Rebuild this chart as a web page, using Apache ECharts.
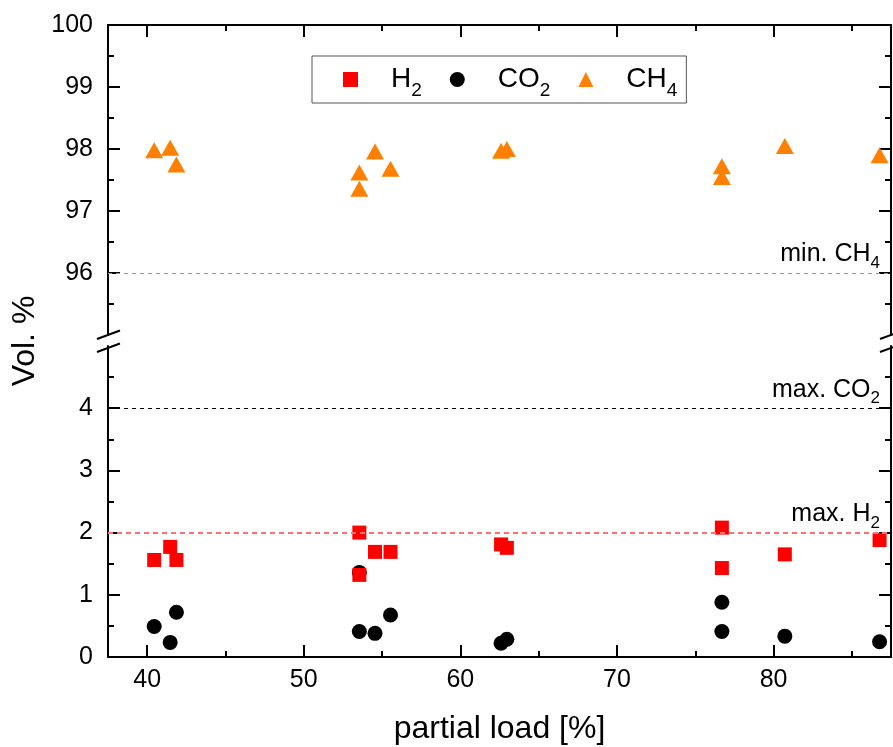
<!DOCTYPE html>
<html><head><meta charset="utf-8">
<script src="https://cdn.jsdelivr.net/npm/echarts@6/dist/echarts.min.js"></script>
<style>html,body{margin:0;padding:0;background:#fff}#c{width:893px;height:747px}</style>
</head><body><div id="c"></div>
<script>
// ---- data ----
const loadPct = [40.45, 41.47, 41.87, 53.55, 53.55, 54.55, 55.54, 62.6, 62.97, 76.7, 76.7, 80.72, 86.77];
const h2  = [1.56, 1.77, 1.56, 2.00, 1.32, 1.69, 1.69, 1.81, 1.755, 2.08, 1.43, 1.65, 1.88];
const co2 = [0.49, 0.235, 0.72, 0.41, 1.36, 0.38, 0.675, 0.22, 0.285, 0.41, 0.88, 0.335, 0.245];
const ch4 = [97.98, 98.02, 97.75, 97.62, 97.36, 97.96, 97.68, 97.97, 98.00, 97.55, 97.72, 98.05, 97.90];
const xMajorTicks = [40, 50, 60, 70, 80];
const xMinorTicks = [45, 55, 65, 75, 85];
const lowerTicks = [0, 1, 2, 3, 4];
const upperTicks = [96, 97, 98, 99, 100];
const limitH2Max = 2, limitCO2Max = 4, limitCH4Min = 96;
const legendNames = ['H2', 'CO2', 'CH4'];

const FONT = 'Liberation Sans, Arial, Helvetica, sans-serif';
const pts = arr => loadPct.map((x, i) => [x, arr[i]]);
const sub = t => { const m = t.match(/^(.*?)(\d+)$/); return '{n|' + m[1] + '}{s|' + m[2] + '}'; };
const annRich = { n: { fontSize: 25, fontFamily: FONT, color: '#000' }, s: { fontSize: 17, fontFamily: FONT, color: '#000', padding: [18, 0, 0, 0], lineHeight: 20 } };
const black = '#000';

function xAx(grid, pos, major) {
  return {
    type: 'value', gridIndex: grid, position: pos, min: 37.5, max: 87.5,
    axisLine: { show: major, onZero: false, lineStyle: { color: black, width: 2 } },
    axisTick: { show: true, inside: true, length: major ? 12 : 6, customValues: major ? xMajorTicks : xMinorTicks, lineStyle: { color: black, width: 2 } },
    axisLabel: { show: major && pos === 'bottom', customValues: xMajorTicks, fontSize: 25, fontFamily: FONT, color: black, margin: 11 },
    splitLine: { show: false }
  };
}
function yAx(grid, pos, min, max, ticks) {
  return {
    type: 'value', gridIndex: grid, position: pos, min: min, max: max, interval: 1,
    axisLine: { show: true, onZero: false, lineStyle: { color: black, width: 2 } },
    axisTick: { show: true, inside: true, length: 12, customValues: ticks, lineStyle: { color: black, width: 2 } },
    minorTick: { show: true, splitNumber: 2, length: 6, lineStyle: { color: black, width: 2 } },
    axisLabel: { show: pos === 'left', customValues: ticks, fontSize: 25, fontFamily: FONT, color: black, margin: 15 },
    splitLine: { show: false }, minorSplitLine: { show: false }
  };
}
function limitLine(val, text, color, width, dash) {
  return {
    silent: true, symbol: ['none', 'none'], animation: false,
    lineStyle: { color: color, width: width, type: dash },
    label: { show: true, position: 'insideEndTop', distance: [11, 6], formatter: sub(text), rich: annRich },
    data: [{ yAxis: val }]
  };
}

const chart = echarts.init(document.getElementById('c'), null, { renderer: 'canvas' });
const xA = [xAx(0, 'bottom', true), xAx(0, 'bottom', false), xAx(1, 'top', true), xAx(1, 'top', false)];
xA[0].name = 'partial load [%]';
xA[0].nameLocation = 'middle';
xA[0].nameGap = 56;
xA[0].nameTextStyle = { fontSize: 32, fontFamily: FONT, color: black };

chart.setOption({
  animation: false,
  backgroundColor: '#fff',
  textStyle: { fontFamily: FONT },
  grid: [
    { left: 108, right: 2, top: 346, height: 311, containLabel: false, outerBoundsMode: 'none' },
    { left: 108, right: 2, top: 25, height: 310, containLabel: false, outerBoundsMode: 'none' }
  ],
  xAxis: xA,
  yAxis: [
    yAx(0, 'left', 0, 5, lowerTicks), yAx(0, 'right', 0, 5, lowerTicks),
    yAx(1, 'left', 95, 100, upperTicks), yAx(1, 'right', 95, 100, upperTicks)
  ],
  legend: {
    data: legendNames, left: 312, top: 56, orient: 'horizontal',
    itemWidth: 15, itemHeight: 15, itemGap: 28, padding: [3, 9, 3, 31],
    borderColor: '#555', borderWidth: 1,
    formatter: n => sub(n),
    textStyle: { fontSize: 28, fontFamily: FONT, color: black,
      rich: { n: { fontSize: 28, fontFamily: FONT, color: black, padding: [0, 0, 0, 28] }, s: { fontSize: 19, fontFamily: FONT, color: black, padding: [22, 0, 0, 0], lineHeight: 20 } } }
  },
  series: [
    { name: 'CO2', type: 'scatter', xAxisIndex: 0, yAxisIndex: 0, symbol: 'circle', symbolSize: 15, z: 2,
      itemStyle: { color: black, opacity: 1 }, data: pts(co2),
      markLine: limitLine(limitCO2Max, 'max. CO2', '#000', 1, [4, 4]) },
    { name: 'H2', type: 'scatter', xAxisIndex: 0, yAxisIndex: 0, symbol: 'rect', symbolSize: 14, z: 3,
      itemStyle: { color: '#ff0000', opacity: 1 }, data: pts(h2),
      markLine: limitLine(limitH2Max, 'max. H2', '#ff6f6f', 2, [5, 4]) },
    { name: 'CH4', type: 'scatter', xAxisIndex: 2, yAxisIndex: 2, symbol: 'triangle', symbolSize: [18, 16], z: 2,
      itemStyle: { color: '#ff8000', opacity: 1 }, data: pts(ch4),
      markLine: limitLine(limitCH4Min, 'min. CH4', '#ff8000', 1, [4, 4]) }
  ],
  graphic: [
    { type: 'line', shape: { x1: 97, y1: 339, x2: 120, y2: 330.5 }, style: { stroke: black, lineWidth: 2 }, z: 100 },
    { type: 'line', shape: { x1: 97, y1: 352, x2: 120, y2: 343.5 }, style: { stroke: black, lineWidth: 2 }, z: 100 },
    { type: 'line', shape: { x1: 880, y1: 339, x2: 903, y2: 330.5 }, style: { stroke: black, lineWidth: 2 }, z: 100 },
    { type: 'line', shape: { x1: 880, y1: 352, x2: 903, y2: 343.5 }, style: { stroke: black, lineWidth: 2 }, z: 100 },
    { type: 'text', x: 25, y: 341, rotation: Math.PI / 2,
      style: { text: 'Vol. %', fontSize: 32, fontFamily: FONT, fill: black, align: 'center', verticalAlign: 'middle' } }
  ]
});
</script></body></html>
